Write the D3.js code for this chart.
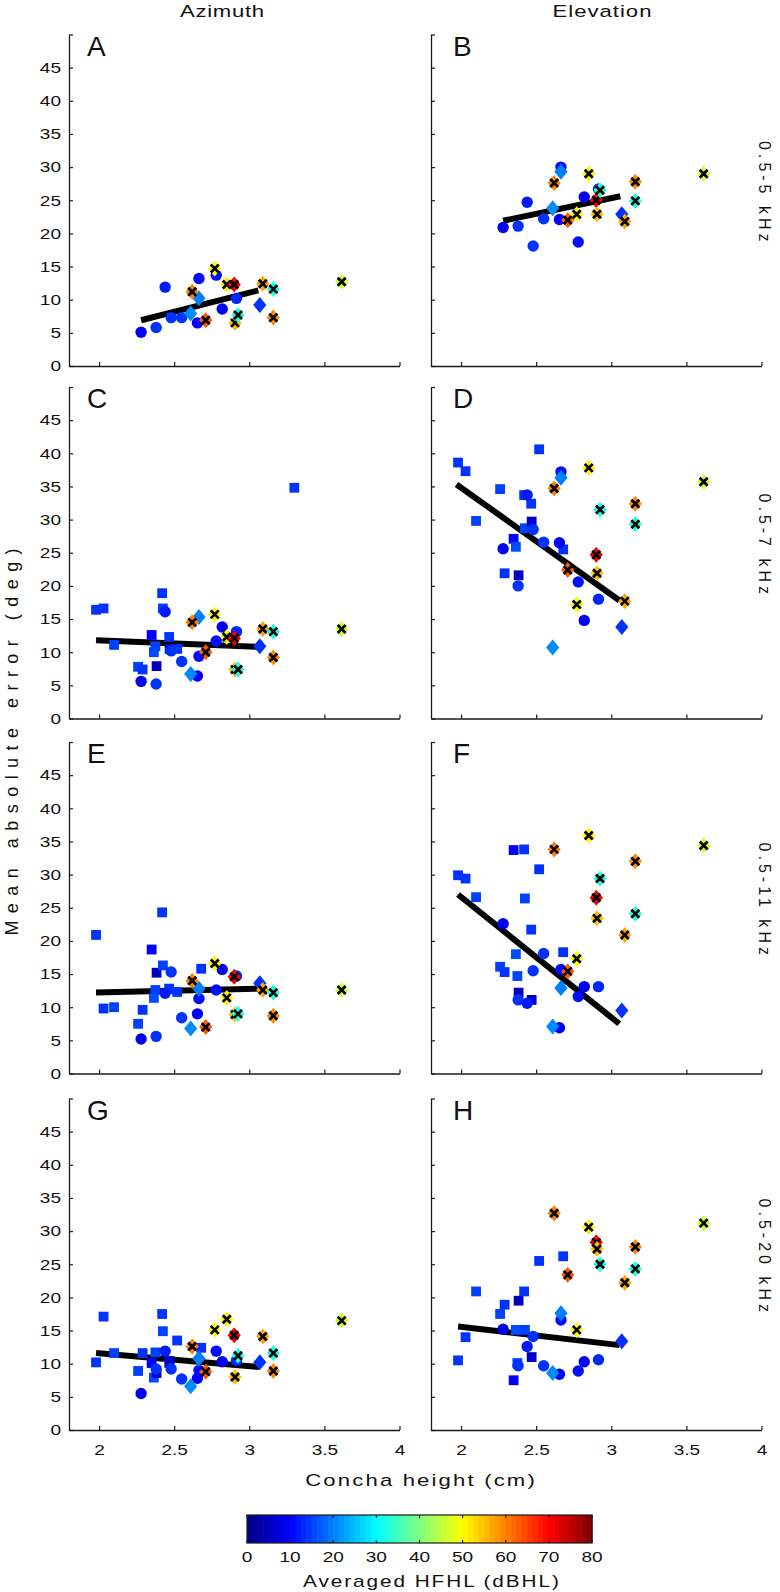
<!DOCTYPE html>
<html>
<head>
<meta charset="utf-8">
<script src="https://cdn.jsdelivr.net/npm/d3@7"></script>
<style>
  body { margin: 0; background: #fff; }
  svg { display: block; }
</style>
</head>
<body>
<svg id="fig" width="780" height="1592"></svg>
<script>
// ---- labels / ticks ----
const panelIds = ["A", "B", "C", "D", "E", "F", "G", "H"];
const columnTitles = ["Azimuth", "Elevation"];
const bandLabels = ["0.5-5 kHz", "0.5-7 kHz", "0.5-11 kHz", "0.5-20 kHz"];
const xTicks = [2, 2.5, 3, 3.5, 4];
const yTicks = [0, 5, 10, 15, 20, 25, 30, 35, 40, 45, 50];
const hflTicks = [0, 10, 20, 30, 40, 50, 60, 70, 80];

// ---- subjects: concha height (cm), averaged HFHL (dBHL) ----
// rows of the *Err arrays are panels A..H (mean absolute error, deg)
const squareX  = [1.98, 2.03, 2.10, 2.26, 2.29, 2.35, 2.365, 2.375, 2.383, 2.42, 2.425, 2.467, 2.47, 2.52, 2.68, 3.30];
const squareHL = [14, 14, 15, 15, 14, 10, 16, 15, 5, 14, 15, 14, 6, 14, 14, 14];
const squareErr = [
  [null, null, null, null, null, null, null, null, null, null, null, null, null, null, null, null],
  [null, null, null, null, null, null, null, null, null, null, null, null, null, null, null, null],
  [16.4, 16.6, 11.1, 7.8, 7.4, 12.6, 10.0, 10.9, 7.9, 18.9, 16.6, 12.3, 10.5, 10.5, null, 34.8],
  [38.6, 37.3, 29.8, 34.6, 21.9, 27.1, 25.9, null, 21.6, 33.7, 28.7, 32.4, 29.7, 40.6, 25.5, null],
  [20.9, 9.8, 10.0, 7.5, 9.6, 18.7, 11.4, 12.6, 15.2, 24.3, 16.3, 12.8, null, 12.3, 15.8, null],
  [29.9, 29.4, 26.6, 16.1, 15.3, 33.7, 18.0, 14.7, 12.2, 33.8, 26.4, 21.7, 11.1, 30.8, 18.3, null],
  [10.2, 17.1, 11.6, 8.9, 11.6, 10.1, 7.9, 11.7, 8.6, 17.5, 14.9, 10.1, 10.4, 13.5, 12.4, null],
  [10.5, 14.0, 20.9, 17.5, 18.9, 7.5, 15.1, 10.1, 19.5, 20.9, 15.1, null, 11.0, 25.5, 26.2, null]
];

const circleX  = [2.28, 2.38, 2.44, 2.48, 2.55, 2.655, 2.665, 2.78, 2.82, 2.915];
const circleHL = [9, 14, 12, 14, 14, 10, 11, 11, 9, 13];
const circleErr = [
  [5.1, 5.8, 11.9, 7.3, 7.3, 6.5, 13.2, 13.7, 8.6, 10.2],
  [20.9, 21.1, 24.7, 18.1, 22.2, 22.1, 30.0, 18.7, 25.5, 26.7],
  [5.6, 5.2, 16.1, 10.2, 8.6, 6.4, 9.4, 11.7, 13.8, 13.1],
  [25.6, 20.0, 33.7, 28.5, 26.6, 26.5, 37.2, 20.6, 14.8, 18.0],
  [5.2, 5.6, 12.1, 15.3, 8.4, 9.0, 11.3, 12.6, 15.7, 14.7],
  [22.6, 11.1, 10.6, 15.5, 18.1, 6.9, 15.7, 11.6, 13.1, 13.1],
  [5.5, 9.2, 11.9, 9.2, 7.7, 7.8, 9.0, 11.9, 10.3, 10.5],
  [15.2, 9.7, 12.6, 14.1, 9.7, 8.4, 16.6, 8.9, 10.3, 10.6]
];

const plainX  = [2.61, 2.665, 3.07];
const plainHL = [21, 20, 14];
const plainErr = [
  [7.9, 10.2, 9.2],
  [23.8, 29.3, 22.9],
  [6.7, 15.3, 10.9],
  [10.7, 36.3, 13.8],
  [6.8, 12.8, 13.6],
  [7.1, 12.9, 9.5],
  [6.6, 10.8, 10.2],
  [8.6, 17.6, 13.4]
];

// hearing-impaired listeners (diamond with x)
const hiX  = [2.62, 2.71, 2.77, 2.85, 2.90, 2.905, 2.925, 3.09, 3.16, 3.16, 3.615];
const hiHL = [60, 63, 50, 51, 71, 55, 32, 57, 59, 32, 46];
const hiErr = [
  [11.2, 6.9, 14.7, 12.3, 12.3, 6.5, 7.7, 12.4, 7.3, 11.6, 12.7],
  [27.6, 22.0, 22.9, 29.0, 25.0, 22.9, 26.5, 21.8, 27.8, 24.9, 29.0],
  [14.5, 10.0, 15.7, 12.3, 12.1, 7.4, 7.4, 13.5, 9.2, 13.1, 13.5],
  [34.7, 22.4, 17.2, 37.8, 24.7, 21.9, 31.5, 17.7, 32.4, 29.3, 35.7],
  [14.0, 7.0, 16.6, 11.4, 14.6, 8.9, 9.0, 12.6, 8.7, 12.2, 12.6],
  [33.8, 15.4, 17.3, 35.9, 26.5, 23.4, 29.4, 20.9, 32.0, 24.1, 34.4],
  [12.6, 8.8, 15.1, 16.7, 14.3, 8.0, 11.2, 14.1, 8.9, 11.6, 16.5],
  [32.7, 23.4, 15.1, 30.6, 28.3, 27.3, 25.0, 22.2, 27.6, 24.3, 31.2]
];

// regression line end points per panel
const fitX0 = [2.28, 2.28, 1.98, 1.97, 1.98, 1.98, 1.98, 1.98];
const fitY0 = [6.9, 21.9, 11.8, 35.3, 12.2, 27.0, 11.6, 15.6];
const fitX1 = [3.06, 3.06, 3.06, 3.055, 3.065, 3.053, 3.065, 3.055];
const fitY1 = [11.4, 25.6, 10.8, 17.8, 12.8, 7.5, 9.5, 12.8];

// ---- layout ----
const FONT = '"Liberation Sans", Arial, Helvetica, sans-serif';
const INK = "#1a1a1a";
const xDomain = [1.8, 4];
const yDomain = [0, 50];
const colLeft = [69, 431];
const colWidth = 330.5;
const rowBottom = [366, 718.5, 1073.5, 1430];
const rowHeight = 331.5;

const svg = d3.select("#fig");

// MATLAB-style jet colormap
function jet(t) {
  const c = v => Math.max(0, Math.min(1, v));
  const r = c(Math.min(4 * t - 1.5, -4 * t + 4.5));
  const g = c(Math.min(4 * t - 0.5, -4 * t + 3.5));
  const b = c(Math.min(4 * t + 0.5, -4 * t + 2.5));
  return d3.rgb(r * 255, g * 255, b * 255).formatHex();
}
const hlColor = v => jet(v / 80);

// the reference figure is stretched sideways, so its text is too
function stretch(sel, k) {
  sel.each(function () {
    const w = this.getComputedTextLength();
    if (w > 0) d3.select(this).attr("textLength", w * k).attr("lengthAdjust", "spacingAndGlyphs");
  });
}

// spread a label to a target length: letter-spacing, then a scale along the text
function label(base, str, size, target, k) {
  const t = svg.append("text")
    .attr("text-anchor", "middle")
    .attr("font-family", FONT).attr("font-size", size).attr("fill", "#111")
    .text(str);
  const node = t.node();
  const n = str.length;
  const w0 = node.getBBox().width;
  let ls = Math.max(0, (target / k - w0) / (n - 1));
  t.style("letter-spacing", ls + "px");
  const w1 = node.getBBox().width;
  ls += (target / k - w1) / (n - 1);
  t.style("letter-spacing", ls + "px").attr("dx", ls / 2);
  t.attr("transform", `${base} scale(${k},1)`);
  return t;
}

function styleAxis(sel) {
  sel.attr("font-family", FONT).attr("font-size", 15);
  sel.select(".domain").attr("stroke", INK).attr("stroke-width", 1.3);
  sel.selectAll(".tick line").attr("stroke", INK).attr("stroke-width", 1.2);
  sel.selectAll(".tick text").attr("fill", "#111").call(stretch, 1.27);
}

const diamond = "M0,-8L6.6,0L0,8L-6.6,0Z";
const cross = "M-4,-4L4,4M4,-4L-4,4";

panelIds.forEach((id, i) => {
  const col = i % 2, row = Math.floor(i / 2);
  const x = d3.scaleLinear().domain(xDomain).range([colLeft[col], colLeft[col] + colWidth]);
  const y = d3.scaleLinear().domain(yDomain).range([rowBottom[row], rowBottom[row] - rowHeight]);
  const g = svg.append("g").attr("class", "panel-" + id);

  g.append("g")
    .attr("transform", `translate(${colLeft[col]},0)`)
    .call(d3.axisLeft(y).tickValues(yTicks).tickSizeInner(-4).tickSizeOuter(0).tickPadding(8)
      .tickFormat(d => (col === 0 && d < 50 ? d : "")))
    .call(styleAxis);

  g.append("g")
    .attr("transform", `translate(0,${rowBottom[row]})`)
    .call(d3.axisBottom(x).tickValues(xTicks).tickSizeInner(-4).tickSizeOuter(0).tickPadding(14)
      .tickFormat(d => (row === 3 ? d : "")))
    .call(styleAxis);

  // panel letter
  g.append("text")
    .attr("x", colLeft[col] + (col ? 22 : 18))
    .attr("y", rowBottom[row] - rowHeight + 21)
    .attr("font-family", FONT).attr("font-size", 28).attr("fill", "#111")
    .text(id);

  // regression line
  g.append("line")
    .attr("x1", x(fitX0[i])).attr("y1", y(fitY0[i]))
    .attr("x2", x(fitX1[i])).attr("y2", y(fitY1[i]))
    .attr("stroke", "#000").attr("stroke-width", 6);

  const pick = (xs, hls, errs) => xs.map((cx, k) => ({ cx, hl: hls[k], v: errs[i][k] }))
    .filter(d => d.v != null);

  g.append("g").selectAll("rect")
    .data(pick(squareX, squareHL, squareErr))
    .join("rect")
    .attr("x", d => x(d.cx) - 4.9).attr("y", d => y(d.v) - 4.9)
    .attr("width", 9.8).attr("height", 9.8)
    .attr("fill", d => hlColor(d.hl));

  g.append("g").selectAll("circle")
    .data(pick(circleX, circleHL, circleErr))
    .join("circle")
    .attr("cx", d => x(d.cx)).attr("cy", d => y(d.v)).attr("r", 5.7)
    .attr("fill", d => hlColor(d.hl));

  g.append("g").selectAll("path")
    .data(pick(plainX, plainHL, plainErr))
    .join("path")
    .attr("transform", d => `translate(${x(d.cx)},${y(d.v)})`)
    .attr("d", diamond)
    .attr("fill", d => hlColor(d.hl));

  const hi = g.append("g").selectAll("g")
    .data(pick(hiX, hiHL, hiErr))
    .join("g")
    .attr("transform", d => `translate(${x(d.cx)},${y(d.v)})`);
  hi.append("path").attr("d", diamond).attr("fill", d => hlColor(d.hl));
  hi.append("path").attr("d", cross).attr("stroke", "#000").attr("stroke-width", 2.7).attr("fill", "none");
});

// column titles
label("translate(222,17)", columnTitles[0], 17, 85, 1.3);
label("translate(602,17)", columnTitles[1], 17, 100, 1.3);

// frequency band labels on the right
bandLabels.forEach((t, r) => {
  label(`translate(759,${rowBottom[r] - rowHeight / 2 - 9}) rotate(90)`, t, 16, [105, 105, 117, 118][r], 1);
});

// axis titles
label("translate(18,742) rotate(-90)", "Mean absolute error (deg)", 18, 395, 1);
label("translate(420,1486)", "Concha height (cm)", 17, 232, 1.3);

// ---- colour bar ----
const cb = { x0: 247, x1: 592, y0: 1515, y1: 1543 };
const cbX = d3.scaleLinear().domain([0, 80]).range([cb.x0, cb.x1]);
const bins = d3.range(64);
svg.append("g").selectAll("rect")
  .data(bins)
  .join("rect")
  .attr("x", k => cbX(k * 80 / 64)).attr("y", cb.y0)
  .attr("width", cbX(80 / 64) - cbX(0) + 0.6).attr("height", cb.y1 - cb.y0)
  .attr("fill", k => jet((k + 0.5) / 64));
svg.append("rect")
  .attr("x", cb.x0).attr("y", cb.y0)
  .attr("width", cb.x1 - cb.x0).attr("height", cb.y1 - cb.y0)
  .attr("fill", "none").attr("stroke", INK).attr("stroke-width", 1.2);
const cbTicks = svg.append("g").selectAll("g").data(hflTicks).join("g");
cbTicks.append("line")
  .attr("x1", d => cbX(d)).attr("x2", d => cbX(d))
  .attr("y1", cb.y0).attr("y2", cb.y0 + 3)
  .attr("stroke", INK).attr("stroke-width", 1.1);
cbTicks.append("line")
  .attr("x1", d => cbX(d)).attr("x2", d => cbX(d))
  .attr("y1", cb.y1).attr("y2", cb.y1 - 3)
  .attr("stroke", INK).attr("stroke-width", 1.1);
cbTicks.append("text")
  .attr("x", d => cbX(d)).attr("y", 1562)
  .attr("text-anchor", "middle")
  .attr("font-family", FONT).attr("font-size", 15).attr("fill", "#111")
  .text(d => d)
  .call(stretch, 1.27);

label("translate(431,1587)", "Averaged HFHL (dBHL)", 16, 258, 1.3);
</script>
</body>
</html>
